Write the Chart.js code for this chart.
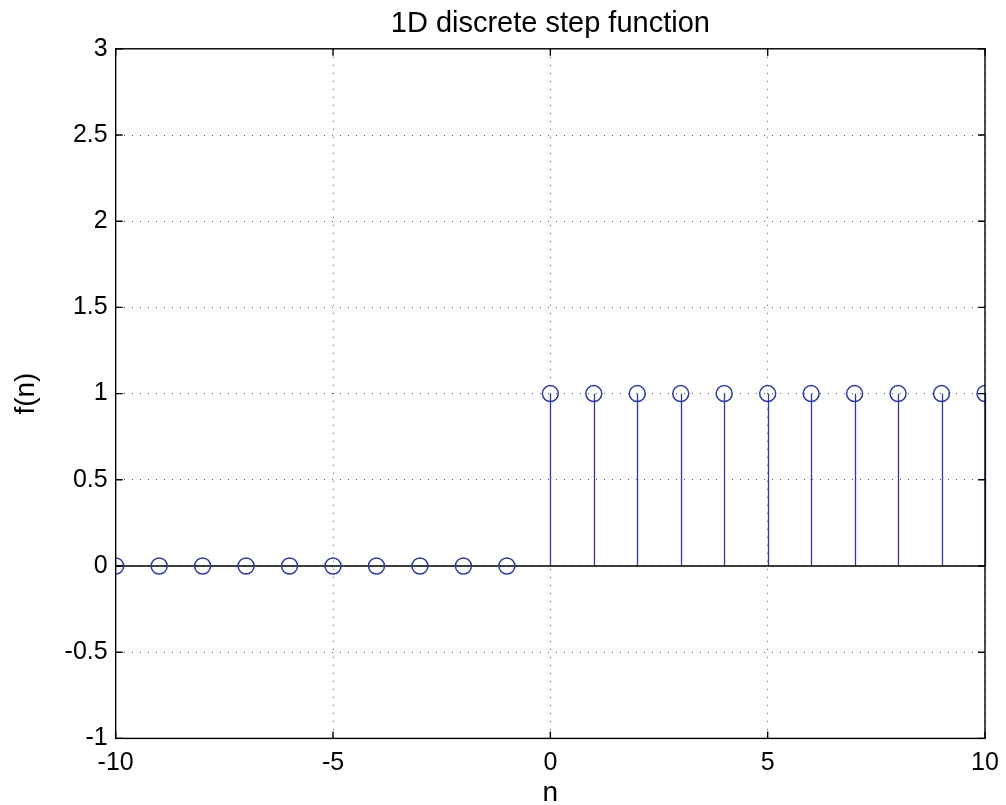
<!DOCTYPE html>
<html lang="en">
<head>
  <meta charset="UTF-8" />
  <title>1D discrete step function</title>
  <script src="https://cdn.jsdelivr.net/npm/chart.js@4.4.1/dist/chart.umd.min.js"></script>
  <style>
    body { margin: 0; background: #fff; }
  </style>
</head>
<body>
<div style="width: 1006px; height: 805px">
  <canvas id="stemChart" width="1006" height="805"></canvas>
</div>
<script>
    const nValues = [-10, -9, -8, -7, -6, -5, -4, -3, -2, -1, 0, 1, 2, 3, 4, 5, 6, 7, 8, 9, 10];
    const fValues = [0, 0, 0, 0, 0, 0, 0, 0, 0, 0, 1, 1, 1, 1, 1, 1, 1, 1, 1, 1, 1];
    const xTicks = [-10, -5, 0, 5, 10];
    const yTicks = [-1, -0.5, 0, 0.5, 1, 1.5, 2, 2.5, 3];

    const stemColor = "#2b3a9c";
    const fontFamily = "'Liberation Sans', Arial, Helvetica, sans-serif";

    // stems from the baseline up to each value, under the markers
    const stemPlugin = {
      id: "stems",
      beforeDatasetsDraw(chart) {
        const ctx = chart.ctx;
        const x = chart.scales.x, y = chart.scales.y;
        ctx.save();
        ctx.strokeStyle = stemColor;
        ctx.lineWidth = 1.3;
        nValues.forEach((n, i) => {
          if (fValues[i] === 0) return;
          const px = Math.round(x.getPixelForValue(n)) + 0.5;
          ctx.beginPath();
          ctx.moveTo(px, y.getPixelForValue(0));
          ctx.lineTo(px, y.getPixelForValue(fValues[i]));
          ctx.stroke();
        });
        ctx.restore();
      }
    };

    // box round the axes plus inward tick marks, matlab style
    const boxPlugin = {
      id: "box",
      afterDraw(chart) {
        const ctx = chart.ctx;
        const a = chart.chartArea;
        const x = chart.scales.x, y = chart.scales.y;
        const len = 7;
        ctx.save();
        ctx.strokeStyle = "#000";
        ctx.lineWidth = 1.4;
        ctx.strokeRect(a.left, a.top, a.right - a.left, a.bottom - a.top);
        ctx.beginPath();
        xTicks.forEach((v) => {
          const px = x.getPixelForValue(v);
          ctx.moveTo(px, a.bottom); ctx.lineTo(px, a.bottom - len);
          ctx.moveTo(px, a.top); ctx.lineTo(px, a.top + len);
        });
        yTicks.forEach((v) => {
          const py = y.getPixelForValue(v);
          ctx.moveTo(a.left, py); ctx.lineTo(a.left + len, py);
          ctx.moveTo(a.right, py); ctx.lineTo(a.right - len, py);
        });
        ctx.stroke();
        ctx.restore();
      }
    };

    const config = {
      type: "scatter",
      data: {
        datasets: [
          {
            label: "f(n)",
            data: nValues.map((n, i) => ({ x: n, y: fValues[i] })),
            showLine: false,
            pointStyle: "circle",
            pointRadius: 8,
            pointBorderWidth: 1.5,
            pointBorderColor: stemColor,
            pointBackgroundColor: "rgba(0,0,0,0)",
            order: 1,
          },
          {
            label: "baseline",
            data: [{ x: nValues[0], y: 0 }, { x: nValues[nValues.length - 1], y: 0 }],
            showLine: true,
            borderColor: "#000",
            borderWidth: 1.3,
            pointRadius: 0,
            order: 2,
          },
        ],
      },
      options: {
        responsive: false,
        animation: false,
        layout: { padding: { left: 9, right: 21, top: 4, bottom: -5 } },
        plugins: {
          legend: { display: false },
          tooltip: { enabled: false },
          title: {
            display: true,
            fullSize: false,
            text: "1D discrete step function",
            color: "#000",
            font: { family: fontFamily, size: 29, weight: "normal" },
            padding: { top: 3, bottom: 7 },
          },
        },
        scales: {
          x: {
            type: "linear",
            min: -10,
            max: 10,
            afterBuildTicks: (scale) => { scale.ticks = xTicks.map((v) => ({ value: v })); },
            afterFit: (scale) => { scale.paddingRight = 0; },
            grid: { color: "#555", lineWidth: 1, drawTicks: false },
            border: { display: false, dash: [1, 7] },
            ticks: { color: "#000", padding: 10, font: { family: fontFamily, size: 25 }, callback: (v) => String(v) },
            title: { display: true, text: "n", color: "#000", padding: { top: -12, bottom: 0 }, font: { family: fontFamily, size: 28 } },
          },
          y: {
            type: "linear",
            min: -1,
            max: 3,
            afterBuildTicks: (scale) => { scale.ticks = yTicks.map((v) => ({ value: v })); },
            grid: { color: "#555", lineWidth: 1, drawTicks: false },
            border: { display: false, dash: [1, 7] },
            ticks: { color: "#000", padding: 8, font: { family: fontFamily, size: 25 }, callback: (v) => String(v) },
            title: { display: true, text: "f(n)", color: "#000", padding: { top: 0, bottom: 14 }, font: { family: fontFamily, size: 28 } },
          },
        },
      },
      plugins: [stemPlugin, boxPlugin],
    };

    const numContext = document.getElementById("stemChart");
    const stemChart = new Chart(numContext, config);
</script>
</body>
</html>
